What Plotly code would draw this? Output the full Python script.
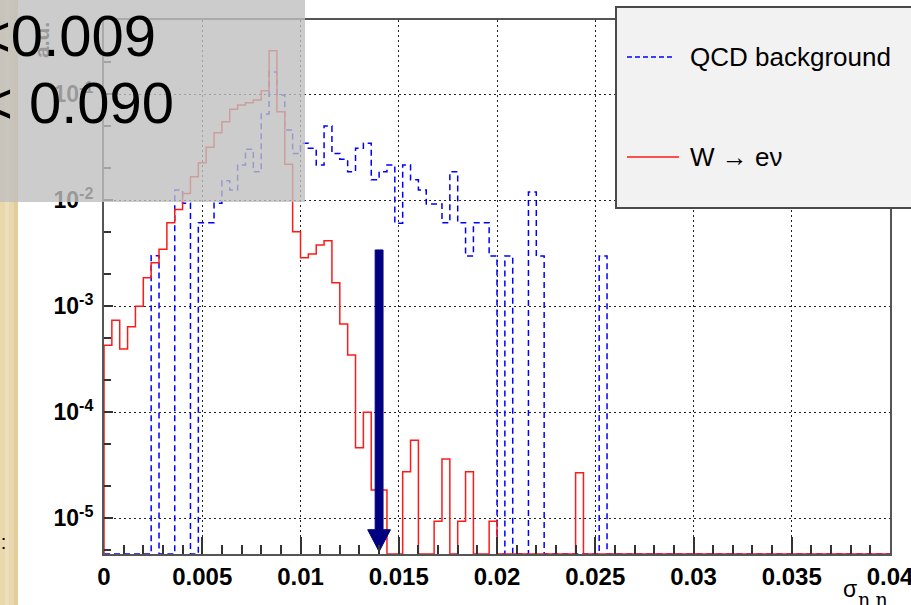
import plotly.graph_objects as go

# ---------------- data ----------------
BIN_WIDTH = 0.0004
X_MIN, X_MAX = 0.0, 0.04

# W -> e nu (signal), per bin of 0.0004 starting at 0
w_enu = [
    4.3e-4, 7.4e-4, 3.95e-4, 6.4e-4, 1.0e-3, 1.86e-3, 2.58e-3, 3.45e-3, 6.15e-3, 8.2e-3,
    1.16e-2, 1.67e-2, 2.26e-2, 3.16e-2, 4.34e-2, 5.52e-2, 7.22e-2, 7.92e-2, 8.33e-2, 8.83e-2,
    0.108, 0.258, 6.86e-2, 2.19e-2, 5.06e-3, 2.87e-3, 3.11e-3, 3.79e-3, 4.16e-3, 1.67e-3,
    6.8e-4, 3.48e-4, 4.63e-5, 1.0e-4, 1.85e-5, 1.85e-5, 0, 0, 2.75e-5, 5.44e-5,
    0, 0, 9.4e-6, 3.62e-5, 0, 9.4e-6, 2.75e-5, 0, 0, 9.4e-6,
    0, 0, 0, 0, 0, 0, 0, 0, 0, 0,
    2.69e-5, 0, 0, 0, 0, 0, 0, 0, 0, 0,
    0, 0, 0, 0, 0, 0, 0, 0, 0, 0,
    0, 0, 0, 0, 0, 0, 0, 0, 0, 0,
    0, 0, 0, 0, 0, 0, 0, 0, 0, 0,
]

# QCD background
qcd_bkg = [
    0, 0, 0, 0, 0, 0, 3.0e-3, 0, 0, 1.25e-2,
    9.37e-3, 0, 6.15e-3, 6.15e-3, 9.37e-3, 1.53e-2, 1.25e-2, 2.15e-2, 3.03e-2, 1.86e-2,
    6.52e-2, 0.162, 9.84e-2, 4.6e-2, 2.77e-2, 3.45e-2, 3.1e-2, 2.15e-2, 5.02e-2, 2.77e-2,
    2.44e-2, 1.86e-2, 3.1e-2, 3.45e-2, 1.56e-2, 1.86e-2, 2.15e-2, 6.07e-3, 2.15e-2, 1.56e-2,
    1.25e-2, 9.23e-3, 9.23e-3, 6.15e-3, 1.86e-2, 6.15e-3, 2.98e-3, 6.15e-3, 6.15e-3, 2.98e-3,
    0, 2.98e-3, 0, 0, 1.2e-2, 2.98e-3, 0, 0, 0, 0,
    0, 0, 0, 2.98e-3, 0, 0, 0, 0, 0, 0,
    0, 0, 0, 0, 0, 0, 0, 0, 0, 0,
    0, 0, 0, 0, 0, 0, 0, 0, 0, 0,
    0, 0, 0, 0, 0, 0, 0, 0, 0, 0,
]

x_tickvals = [0, 0.005, 0.01, 0.015, 0.02, 0.025, 0.03, 0.035, 0.04]
x_ticktext = ["0", "0.005", "0.01", "0.015", "0.02", "0.025", "0.03", "0.035", "0.04"]
y_tickvals = [1e-5, 1e-4, 1e-3, 1e-2, 1e-1]
y_ticktext = ["10<sup>-5</sup>", "10<sup>-4</sup>", "10<sup>-3</sup>", "10<sup>-2</sup>", "10<sup>-1</sup>"]

CUT_VALUE = 0.014        # selection cut marked by the arrow
ARROW_TOP = 3.4e-3
LOG_Y_RANGE = [-5.337, -0.299]

series_names = ["QCD background", "W \u2192 e\u03bd"]
overlay_lines = ["<0.009", "< 0.090"]

# ---------------- helpers ----------------
W, H = 911, 605
ML, MR, MT, MB = 104, 21, 20, 51
PW, PH = W - ML - MR, H - MT - MB
FLOOR = 10 ** LOG_Y_RANGE[0]


def px(x):
    return (x - ML) / PW


def py(y):
    return (H - MB - y) / PH


def steps(values):
    xs, ys = [X_MIN], [FLOOR]
    for i, v in enumerate(values):
        v = v if v > 0 else FLOOR
        x0 = X_MIN + i * BIN_WIDTH
        xs += [x0, x0 + BIN_WIDTH]
        ys += [v, v]
    xs.append(X_MAX)
    ys.append(FLOOR)
    return xs, ys


fig = go.Figure()

bx, by = steps(qcd_bkg)
fig.add_trace(go.Scatter(x=bx, y=by, mode="lines", name=series_names[0],
                         line=dict(color="#0000ff", width=1.5, dash="6px,4px"),
                         showlegend=False, hoverinfo="skip"))
rx, ry = steps(w_enu)
fig.add_trace(go.Scatter(x=rx, y=ry, mode="lines", name=series_names[1],
                         line=dict(color="#ff1a1a", width=1.5),
                         showlegend=False, hoverinfo="skip"))

# arrow marking the cut
hw = BIN_WIDTH / 2
head_w = 0.00058
head_base = 7.8e-6
tip = 4.85e-6
ax_x = [CUT_VALUE - hw, CUT_VALUE + hw, CUT_VALUE + hw, CUT_VALUE + head_w,
        CUT_VALUE, CUT_VALUE - head_w, CUT_VALUE - hw, CUT_VALUE - hw]
ax_y = [ARROW_TOP, ARROW_TOP, head_base, head_base, tip, head_base, head_base, ARROW_TOP]
fig.add_trace(go.Scatter(x=ax_x, y=ax_y, mode="lines", fill="toself",
                         fillcolor="#000080", line=dict(color="#000080", width=1),
                         showlegend=False, hoverinfo="skip"))

fig.update_layout(
    width=W, height=H,
    margin=dict(l=ML, r=MR, t=MT, b=MB, autoexpand=False),
    paper_bgcolor="white", plot_bgcolor="white",
    font=dict(family="Liberation Sans, Arial, sans-serif", color="black"),
    showlegend=False,
)

fig.update_xaxes(
    range=[X_MIN, X_MAX], tickvals=x_tickvals, ticktext=x_ticktext,
    ticks="inside", ticklen=17, tickwidth=1.5, tickcolor="#333",
    minor=dict(ticks="inside", ticklen=9, tickwidth=1.5, tickcolor="#333", dtick=0.001, showgrid=False),
    showgrid=True, gridcolor="#222", griddash="2px,3px", gridwidth=1,
    showline=True, linecolor="#555", linewidth=2, mirror=True,
    tickfont=dict(size=24, weight=700, family="Liberation Sans, Arial"),
    ticklabeloverflow="allow", automargin=False,
    zeroline=False,
)
fig.update_yaxes(
    type="log", range=LOG_Y_RANGE, tickvals=y_tickvals, ticktext=y_ticktext,
    ticks="inside", ticklen=9, tickwidth=1.5, tickcolor="#333",
    minor=dict(ticks="inside", ticklen=7, tickwidth=1.5, tickcolor="#333", showgrid=False),
    showgrid=True, gridcolor="#222", griddash="2px,3px", gridwidth=1,
    showline=True, linecolor="#555", linewidth=2, mirror=True,
    tickfont=dict(size=23, weight=700, family="Liberation Sans, Arial"),
    ticklabelstandoff=4, automargin=False,
    zeroline=False,
)

shapes = []
# beige textured strip at the left edge (slide background)
shapes.append(dict(type="rect", xref="paper", yref="paper", x0=px(-2), x1=px(18), y0=py(-2), y1=py(607),
                   fillcolor="#ead8ad", line=dict(width=0), layer="below"))
shapes.append(dict(type="rect", xref="paper", yref="paper", x0=px(5), x1=px(9), y0=py(-2), y1=py(607),
                   fillcolor="#eedfba", line=dict(width=0), layer="below"))
shapes.append(dict(type="rect", xref="paper", yref="paper", x0=px(14), x1=px(18), y0=py(-2), y1=py(607),
                   fillcolor="#e2cd9c", line=dict(width=0), layer="below"))
# legend box
shapes.append(dict(type="rect", xref="paper", yref="paper", x0=px(616), x1=px(920), y0=py(208), y1=py(7),
                   fillcolor="#f2f2f2", line=dict(color="#4a4a4a", width=2), layer="above"))
shapes.append(dict(type="line", xref="paper", yref="paper", x0=px(627), x1=px(675), y0=py(57), y1=py(57),
                   line=dict(color="#0000ff", width=1.5, dash="5px,3px"), layer="above"))
shapes.append(dict(type="line", xref="paper", yref="paper", x0=px(627), x1=px(679), y0=py(157), y1=py(157),
                   line=dict(color="#ff1a1a", width=1.5), layer="above"))
# semi-transparent grey overlay box (top-left)
shapes.append(dict(type="rect", xref="paper", yref="paper", x0=px(-2), x1=px(305), y0=py(202), y1=py(-2),
                   fillcolor="rgba(191,191,191,0.8)", line=dict(width=0), layer="above"))
fig.update_layout(shapes=shapes)

annotations = [
    dict(text=series_names[0], xref="paper", yref="paper", x=px(688), y=py(57),
         xanchor="left", yanchor="middle", showarrow=False,
         font=dict(size=26, color="black", family="Liberation Sans, Arial")),
    dict(text=series_names[1], xref="paper", yref="paper", x=px(688), y=py(157),
         xanchor="left", yanchor="middle", showarrow=False,
         font=dict(size=26, color="black", family="Liberation Sans, Arial")),
    dict(text="\u03c3", xref="paper", yref="paper", x=px(850), y=py(589),
         xanchor="center", yanchor="middle", showarrow=False,
         font=dict(size=23, color="black", family="Liberation Sans, Arial")),
    dict(text="\u03b7 \u03b7", xref="paper", yref="paper", x=px(889), y=py(599),
         xanchor="right", yanchor="middle", showarrow=False,
         font=dict(size=19, color="black", family="DejaVu Serif, serif")),
    dict(text="a.u.", xref="paper", yref="paper", x=px(41), y=py(20), textangle=-90,
         xanchor="center", yanchor="top", showarrow=False,
         font=dict(size=21, color="#999999", weight=700, family="Liberation Sans, Arial")),
    dict(text="):", xref="paper", yref="paper", x=px(8), y=py(542),
         xanchor="right", yanchor="middle", showarrow=False,
         font=dict(size=20, color="black", family="Liberation Sans, Arial")),
    dict(text=overlay_lines[0], xref="paper", yref="paper", x=px(158), y=py(36),
         xanchor="right", yanchor="middle", showarrow=False,
         font=dict(size=58, color="black", family="Liberation Sans, Arial")),
    dict(text=overlay_lines[1], xref="paper", yref="paper", x=px(176), y=py(102),
         xanchor="right", yanchor="middle", showarrow=False,
         font=dict(size=58, color="black", family="Liberation Sans, Arial")),
]
fig.update_layout(annotations=annotations)

fig.write_html("out.html", config={"displayModeBar": False},
               post_script="document.body.style.margin='0';document.body.style.overflow='hidden';")
